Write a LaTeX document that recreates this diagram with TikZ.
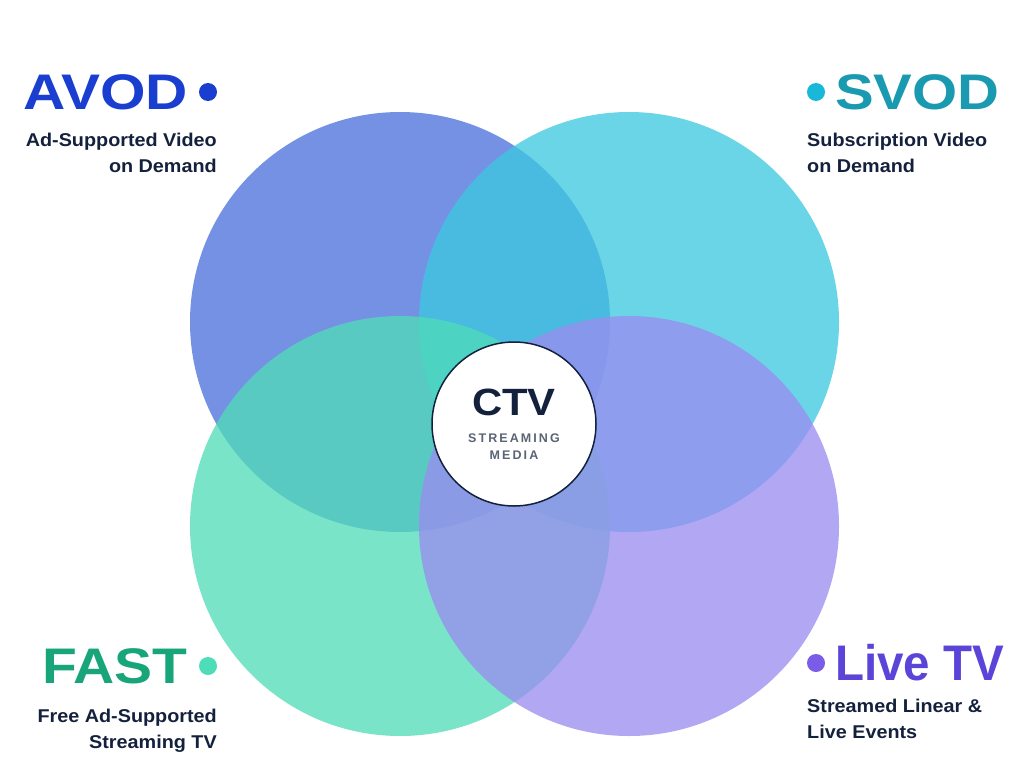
\documentclass[tikz,border=0pt]{standalone}
\usepackage{fontspec}
\setmainfont{Liberation Sans}
\begin{document}
\begin{tikzpicture}[x=1pt,y=-1pt,
  venn/.style={circle,minimum size=420pt,inner sep=0pt,draw=none,fill opacity=0.76},
  big/.style={font=\fontsize{50}{50}\selectfont\bfseries,inner sep=0pt},
  sub/.style={font=\fontsize{18.5}{26}\selectfont\bfseries,text=navy,inner sep=0pt,xscale=1.07},
  dot/.style={circle,minimum size=18pt,inner sep=0pt}]
\definecolor{navy}{HTML}{14213D}
\definecolor{cA}{HTML}{4A6FDC}\definecolor{cS}{HTML}{3CC8E0}
\definecolor{cF}{HTML}{4FDCB8}\definecolor{cL}{HTML}{9A8CF0}
\definecolor{tA}{HTML}{1A3FD0}\definecolor{tS}{HTML}{1A9AB0}
\definecolor{tF}{HTML}{18A57A}\definecolor{tL}{HTML}{5B44D8}
\definecolor{dS}{HTML}{1AB8D8}\definecolor{dF}{HTML}{4FDCB8}\definecolor{dL}{HTML}{7B5CE6}
\useasboundingbox[fill=white] (0,0) rectangle (1024,768);
\node[venn,fill=cA] (ca) at (400,322) {};
\node[venn,fill=cS] (cs) at (629,322) {};
\node[venn,fill=cF] (cf) at (400,526) {};
\node[venn,fill=cL] (cl) at (629,526) {};
\node[circle,minimum size=164pt,fill=white,draw=navy,line width=1.5pt] (ctv) at (514,424) {};
\node[font=\fontsize{38}{38}\selectfont\bfseries,text=navy,xscale=1.1] (ctvt) at (514,402) {CTV};
\node[font=\fontsize{12.5}{17}\selectfont\bfseries,text=navy!70,align=center] (ctvs) at (514,447) {S\,T\,R\,E\,A\,M\,I\,N\,G\\M\,E\,D\,I\,A};
% AVOD
\node[big,text=tA,anchor=east,xscale=1.17] (ta) at (188,92) {AVOD};
\node[dot,fill=tA] (da) at (208,92) {};
\node[sub,align=right,anchor=north east] (sa) at (217,133) {Ad-Supported Video\\on Demand};
% SVOD
\node[big,text=tS,anchor=west,xscale=1.16] (ts) at (835,92) {SVOD};
\node[dot,fill=dS] (ds) at (816,92) {};
\node[sub,align=left,anchor=north west] (ss) at (807,133) {Subscription Video\\on Demand};
% FAST
\node[big,text=tF,anchor=east,xscale=1.14] (tf) at (188,666) {FAST};
\node[dot,fill=dF] (df) at (208,666) {};
\node[sub,align=right,anchor=north east] (sf) at (217,709) {Free Ad-Supported\\Streaming TV};
% Live TV
\node[big,text=tL,anchor=west,xscale=0.95] (tl) at (835,663) {Live TV};
\node[dot,fill=dL] (dl) at (816,663) {};
\node[sub,align=left,anchor=north west] (sl) at (807,699) {Streamed Linear \&\\Live Events};
\end{tikzpicture}
\end{document}
